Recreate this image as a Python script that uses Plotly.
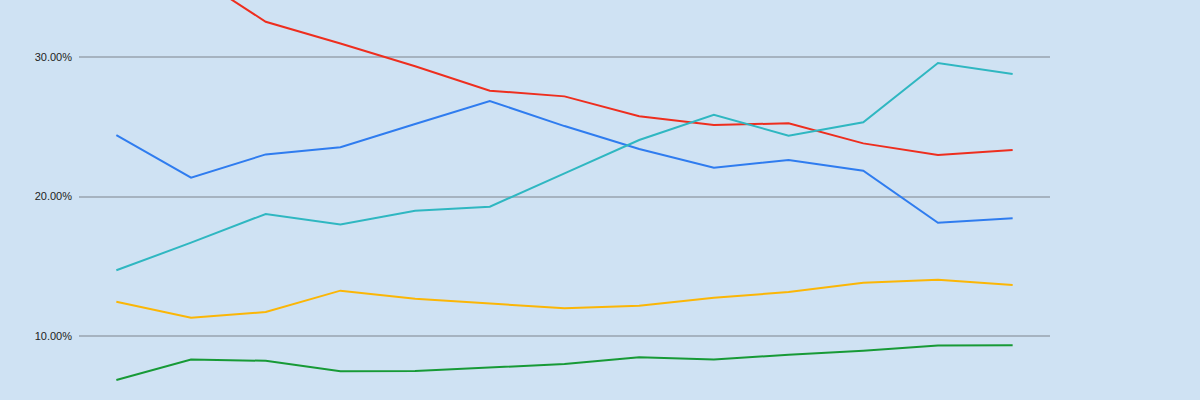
import plotly.graph_objects as go

categories = list(range(13))
red = [36.6, 36.0, 32.53, 30.97, 29.34, 27.59, 27.18, 25.75, 25.13, 25.25, 23.81, 22.97, 23.33]
blue = [24.41, 21.35, 23.02, 23.53, 25.2, 26.85, 25.05, 23.41, 22.06, 22.62, 21.85, 18.12, 18.44]
cyan = [14.71, 16.69, 18.75, 18.0, 18.98, 19.27, 21.66, 24.05, 25.86, 24.36, 25.32, 29.57, 28.78]
yellow = [12.46, 11.31, 11.72, 13.25, 12.67, 12.34, 11.99, 12.17, 12.74, 13.15, 13.82, 14.04, 13.66]
green = [6.85, 8.31, 8.22, 7.47, 7.49, 7.73, 7.99, 8.47, 8.31, 8.66, 8.95, 9.31, 9.33]

series = [
    ("red", red, "#ee2e1e"),
    ("blue", blue, "#2f7cef"),
    ("cyan", cyan, "#2fb7c1"),
    ("yellow", yellow, "#fbb606"),
    ("green", green, "#179a36"),
]

fig = go.Figure()
for name, vals, color in series:
    fig.add_trace(go.Scatter(
        x=categories, y=[v / 100 for v in vals], mode="lines", name=name,
        line=dict(color=color, width=2), showlegend=False,
    ))

fig.update_layout(
    width=1200, height=400,
    margin=dict(l=79, r=150, t=0, b=0),
    paper_bgcolor="#cfe2f3", plot_bgcolor="#cfe2f3",
    font=dict(family="Liberation Sans, Arial, sans-serif", size=11, color="#222222"),
    xaxis=dict(range=[-0.5, 12.5], showgrid=False, zeroline=False, showticklabels=False,
               showline=False, ticks=""),
    yaxis=dict(range=[0.0541, 0.3409], tickvals=[0.1, 0.2, 0.3], tickformat=".2%",
               showgrid=True, gridcolor="#a6b3c0", gridwidth=1.5, zeroline=False,
               showline=False, ticks="", ticklabelstandoff=6),
)

fig.write_html(
    "out.html",
    config={"displayModeBar": False},
    post_script="document.body.style.margin='0';document.body.style.overflow='hidden';document.body.style.background='#cfe2f3';",
)
